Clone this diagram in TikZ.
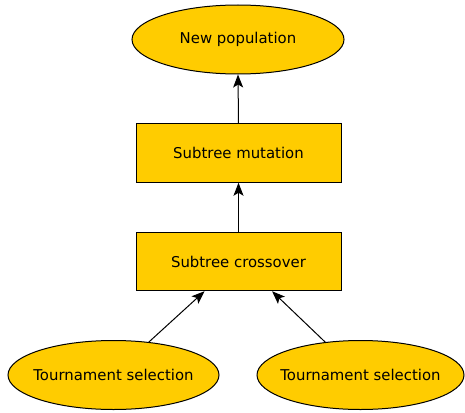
\documentclass[tikz,border=0pt]{standalone}
\usepackage{fontspec}
\setmainfont{DejaVu Sans}
\usetikzlibrary{shapes.geometric,arrows.meta,calc}
\definecolor{gold}{HTML}{FFCC00}
\newcommand{\zw}[1]{\makebox[0pt]{#1}}
\begin{document}
\begin{tikzpicture}[x=1pt,y=-1pt,
  every node/.style={font=\fontsize{14.9}{18}\selectfont, text=black, inner sep=0pt},
  oval/.style={ellipse, draw=black, line width=1pt, fill=gold, minimum width=212pt, minimum height=69pt},
  box/.style={rectangle, draw=black, line width=1pt, fill=gold, minimum width=205pt, minimum height=58.5pt},
  arr/.style={line width=1pt, -{Stealth[length=13pt,width=10pt,inset=3pt]}}]
\useasboundingbox (0,0) rectangle (465,412);
\node[oval] (newpop) at (238,39.5) {\zw{New population}};
\node[box] (mut) at (238.5,153) {Subtree mutation};
\node[box] (cross) at (238.5,261.5) {Subtree crossover};
\node[oval, minimum width=211pt] (sel1) at (113.5,375) {\zw{Tournament selection}};
\node[oval, minimum width=207pt] (sel2) at (360.5,375) {\zw{Tournament selection}};
\draw[arr] (mut.north) -- (newpop.south);
\draw[arr] (cross.north) -- (mut.south);
\draw[arr] (sel1.43) -- ($(cross.south west)!0.335!(cross.south east)$);
\draw[arr] (sel2.137) -- ($(cross.south west)!0.663!(cross.south east)$);
\end{tikzpicture}
\end{document}
